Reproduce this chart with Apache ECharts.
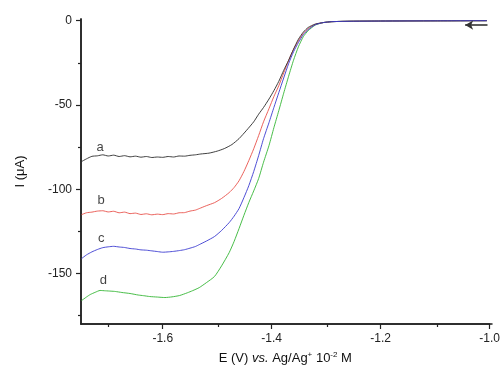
<!DOCTYPE html>
<html>
<head>
<meta charset="utf-8">
<script src="https://cdn.jsdelivr.net/npm/echarts@6/dist/echarts.min.js"></script>
<style>
html,body{margin:0;padding:0;background:#fff;}
#chart{width:503px;height:372px;}
</style>
</head>
<body>
<div id="chart"></div>
<script>
// ---- data (E in V, I in µA) ----
var tail = [[-1.305,-1.1],[-1.290,-0.6],[-1.27,-0.4],[-1.25,-0.3],[-1.2,-0.2],[-1.1,-0.1],[-1.005,0]];

var curveA = [[-1.749,-83.6],[-1.740,-82.0],[-1.730,-80.5],[-1.720,-80.2],[-1.710,-79.6],[-1.700,-80.3],[-1.690,-79.8],[-1.680,-80.6],[-1.670,-80.1],[-1.660,-80.8],[-1.650,-80.4],[-1.640,-81.0],[-1.630,-80.6],[-1.620,-81.2],[-1.610,-80.9],[-1.600,-81.1],[-1.590,-80.6],[-1.580,-80.9],[-1.570,-80.3],[-1.560,-80.4],[-1.550,-79.9],[-1.540,-79.6],[-1.530,-79.1],[-1.515,-78.6],[-1.500,-77.4],[-1.487,-75.9],[-1.473,-73.5],[-1.460,-70.0],[-1.446,-65.0],[-1.433,-60.0],[-1.424,-55.5],[-1.415,-51.5],[-1.405,-46.5],[-1.396,-41.5],[-1.387,-36.0],[-1.378,-29.5],[-1.369,-23.5],[-1.360,-17.0],[-1.351,-11.0],[-1.342,-6.8],[-1.333,-4.0],[-1.320,-2.0]];

var curveB = [[-1.749,-115.1],[-1.740,-114.0],[-1.730,-113.6],[-1.720,-113.0],[-1.710,-112.8],[-1.700,-113.5],[-1.690,-113.1],[-1.680,-114.0],[-1.670,-113.6],[-1.660,-114.5],[-1.650,-114.2],[-1.640,-115.0],[-1.630,-114.6],[-1.620,-115.2],[-1.610,-114.8],[-1.600,-115.1],[-1.590,-114.5],[-1.580,-114.7],[-1.570,-114.0],[-1.560,-113.9],[-1.550,-113.0],[-1.540,-112.4],[-1.533,-111.5],[-1.520,-109.8],[-1.505,-108.0],[-1.492,-105.5],[-1.478,-102.0],[-1.469,-99.0],[-1.460,-95.0],[-1.451,-89.5],[-1.442,-83.0],[-1.433,-76.0],[-1.424,-68.2],[-1.415,-60.0],[-1.405,-52.2],[-1.396,-45.0],[-1.387,-38.6],[-1.378,-31.0],[-1.369,-23.7],[-1.360,-17.0],[-1.351,-11.9],[-1.342,-7.5],[-1.333,-4.7],[-1.320,-2.2]];

var curveC = [[-1.749,-141.2],[-1.740,-139.0],[-1.730,-137.2],[-1.720,-135.8],[-1.710,-134.7],[-1.700,-134.2],[-1.690,-133.9],[-1.680,-134.3],[-1.670,-134.6],[-1.660,-135.2],[-1.650,-135.5],[-1.640,-136.0],[-1.630,-136.2],[-1.620,-136.6],[-1.610,-137.0],[-1.600,-137.4],[-1.590,-137.2],[-1.580,-136.9],[-1.569,-136.4],[-1.560,-135.9],[-1.550,-135.0],[-1.540,-134.0],[-1.533,-132.9],[-1.520,-130.8],[-1.505,-128.1],[-1.492,-124.5],[-1.478,-119.8],[-1.469,-116.0],[-1.460,-111.5],[-1.451,-105.0],[-1.442,-97.9],[-1.433,-89.5],[-1.424,-80.1],[-1.415,-70.0],[-1.405,-60.5],[-1.396,-51.5],[-1.387,-42.7],[-1.378,-34.0],[-1.369,-25.5],[-1.360,-18.5],[-1.351,-13.0],[-1.342,-8.3],[-1.333,-5.3],[-1.320,-2.4]];

var curveD = [[-1.749,-166.1],[-1.740,-164.0],[-1.733,-162.5],[-1.724,-161.2],[-1.715,-160.1],[-1.705,-160.3],[-1.695,-160.5],[-1.687,-160.7],[-1.675,-161.3],[-1.660,-161.9],[-1.645,-162.8],[-1.635,-163.2],[-1.624,-163.7],[-1.610,-164.0],[-1.596,-164.3],[-1.583,-163.9],[-1.569,-163.1],[-1.555,-161.5],[-1.545,-160.2],[-1.533,-158.4],[-1.520,-155.5],[-1.505,-151.8],[-1.492,-145.5],[-1.478,-137.6],[-1.469,-131.0],[-1.460,-123.4],[-1.451,-115.5],[-1.442,-107.9],[-1.433,-101.0],[-1.424,-93.7],[-1.415,-84.0],[-1.405,-74.1],[-1.396,-63.5],[-1.387,-53.4],[-1.378,-43.0],[-1.369,-33.0],[-1.360,-23.5],[-1.351,-15.5],[-1.342,-9.5],[-1.333,-5.9],[-1.320,-2.6]];

var curveNames = ['a','b','c','d'];
var labelPos = [[-1.715,-75.3],[-1.713,-106.8],[-1.713,-129.3],[-1.709,-154.2]];
var xMajorTicks = [-1.6,-1.4,-1.2,-1.0];
var xMinorTicks = [-1.7,-1.5,-1.3,-1.1];
var yMajorTicks = [-150,-100,-50,0];
var yMinorTicks = [-175,-125,-75,-25];
var arrowFrom = [-1.004,-2.6];
var arrowTo = [-1.045,-2.6];

// ---- chart ----
var FONT = '"Liberation Sans", Arial, sans-serif';
var AX = '#222';
var colors = {a:'#2a2a2a', b:'#e8504a', c:'#3a3ad0', d:'#33b533'};
var curves = {a:curveA, b:curveB, c:curveC, d:curveD};
var GRID = {left:81, right:11, top:19, bottom:48, containLabel:false};
var X_RANGE = {min:-1.75, max:-1.0};
var Y_RANGE = {min:-180, max:1};
var axisLineStyle = {color:AX, width:1.5};

function lineSeries(k){
  return {
    type:'line', name:k, data:curves[k].concat(tail), showSymbol:false, symbol:'none',
    smooth:0.2, lineStyle:{color:colors[k], width:0.9}, silent:true, z:2
  };
}

var series = [lineSeries('d'), lineSeries('b'), lineSeries('a'), lineSeries('c')];
series[3].markLine = {
  silent:true, symbol:['none','arrow'], symbolSize:[7,8],
  lineStyle:{color:'#333', width:1.6, type:'solid'}, label:{show:false},
  data:[[{coord:arrowFrom},{coord:arrowTo}]]
};
series.push({
  type:'scatter', symbolSize:0, silent:true,
  data:labelPos.map(function(p,i){return {value:p, name:curveNames[i]};}),
  label:{show:true, position:'inside', formatter:function(p){return p.name;},
         color:'#111', fontSize:13, fontFamily:FONT}
});

var option = {
  animation:false,
  backgroundColor:'#fff',
  grid:[Object.assign({}, GRID), Object.assign({}, GRID)],
  xAxis:[{
    gridIndex:0, type:'value', min:X_RANGE.min, max:X_RANGE.max, position:'bottom',
    axisLine:{show:true, onZero:false, lineStyle:axisLineStyle},
    axisTick:{show:true, inside:false, length:5, customValues:xMajorTicks, lineStyle:{color:AX, width:1.2}},
    axisLabel:{show:true, customValues:xMajorTicks, margin:9, color:AX, fontSize:12, fontFamily:FONT,
      formatter:function(v){return v.toFixed(1);}},
    splitLine:{show:false},
    name:'E (V) {i|vs.} Ag/Ag{sup|+} 10{sup|-2} M', nameLocation:'middle', nameGap:27,
    nameTextStyle:{color:'#111', fontSize:13, fontFamily:FONT,
      rich:{i:{fontStyle:'italic', fontSize:13, fontFamily:FONT, color:'#111'},
            sup:{fontSize:8, fontFamily:FONT, color:'#111', verticalAlign:'top', padding:[0,0,7,0]}}}
  },{
    gridIndex:1, type:'value', min:X_RANGE.min, max:X_RANGE.max, position:'bottom',
    axisLine:{show:true, onZero:false, lineStyle:axisLineStyle},
    axisTick:{show:true, inside:false, length:3, customValues:xMinorTicks, lineStyle:{color:AX, width:1.2}},
    axisLabel:{show:false}, splitLine:{show:false}
  }],
  yAxis:[{
    gridIndex:0, type:'value', min:Y_RANGE.min, max:Y_RANGE.max, position:'left',
    axisLine:{show:true, onZero:false, lineStyle:axisLineStyle},
    axisTick:{show:true, inside:false, length:5, customValues:yMajorTicks, lineStyle:{color:AX, width:1.2}},
    axisLabel:{show:true, customValues:yMajorTicks, margin:9, color:AX, fontSize:12, fontFamily:FONT},
    splitLine:{show:false},
    name:'I (μA)', nameLocation:'middle', nameGap:54, nameRotate:90,
    nameTextStyle:{color:'#111', fontSize:13, fontFamily:FONT}
  },{
    gridIndex:1, type:'value', min:Y_RANGE.min, max:Y_RANGE.max, position:'left',
    axisLine:{show:true, onZero:false, lineStyle:axisLineStyle},
    axisTick:{show:true, inside:false, length:3, customValues:yMinorTicks, lineStyle:{color:AX, width:1.2}},
    axisLabel:{show:false}, splitLine:{show:false}
  }],
  series:series
};

var chart = echarts.init(document.getElementById('chart'), null, {renderer:'canvas'});
chart.setOption(option);
</script>
</body>
</html>
